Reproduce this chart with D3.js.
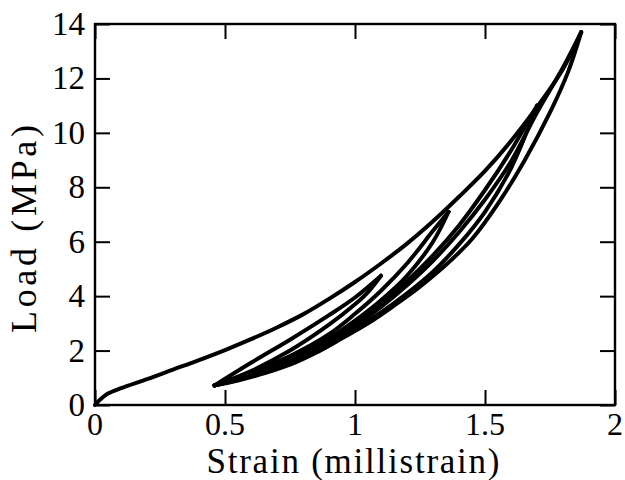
<!DOCTYPE html>
<html><head><meta charset="utf-8">
<script src="https://cdn.jsdelivr.net/npm/d3@7"></script>
<style>body{margin:0;background:#fff}svg{display:block}</style>
</head><body><svg id="c" width="625" height="480"></svg>
<script>
const xTicks = [0, 0.5, 1, 1.5, 2];
const xTickLabels = ["0", "0.5", "1", "1.5", "2"];
const yTicks = [0, 2, 4, 6, 8, 10, 12, 14];
const yTickLabels = ["0", "2", "4", "6", "8", "10", "12", "14"];
const xTitle = "Strain (millistrain)";
const yTitle = "Load (MPa)";

// Strain (millistrain), Load (MPa)
const envelopeX = [0, 0.02, 0.05, 0.1, 0.2, 0.3, 0.4, 0.5, 0.6, 0.7, 0.8, 0.9, 1.0, 1.1, 1.2, 1.3, 1.4, 1.5, 1.6, 1.7, 1.8, 1.87];
const envelopeY = [0, 0.2, 0.42, 0.62, 0.95, 1.3, 1.65, 2.02, 2.42, 2.85, 3.33, 3.9, 4.52, 5.2, 5.93, 6.75, 7.65, 8.6, 9.7, 10.95, 12.35, 13.7];
const reload1X = [0.46, 0.6, 0.75, 0.9, 1.0, 1.1];
const reload1Y = [0.72, 1.55, 2.4, 3.3, 3.95, 4.75];
const unload1X = [1.1, 1.05, 1.0, 0.9, 0.75, 0.6, 0.46];
const unload1Y = [4.75, 4.15, 3.7, 2.95, 2.0, 1.25, 0.72];
const reload2X = [0.46, 0.6, 0.75, 0.9, 1.0, 1.1, 1.2, 1.3, 1.36];
const reload2Y = [0.72, 1.2, 1.8, 2.6, 3.35, 4.2, 5.2, 6.4, 7.1];
const unload2X = [1.36, 1.3, 1.2, 1.1, 1.0, 0.9, 0.75, 0.6, 0.46];
const unload2Y = [7.1, 6.0, 4.75, 3.85, 3.1, 2.45, 1.65, 1.1, 0.72];
const reload3X = [0.46, 0.6, 0.75, 0.9, 1.0, 1.1, 1.2, 1.3, 1.4, 1.5, 1.6, 1.7];
const reload3Y = [0.72, 1.15, 1.7, 2.4, 3.0, 3.7, 4.55, 5.5, 6.6, 7.9, 9.35, 11.0];
const unload3X = [1.7, 1.6, 1.5, 1.4, 1.3, 1.2, 1.1, 1.0, 0.9, 0.75, 0.6, 0.46];
const unload3Y = [11.0, 8.7, 7.1, 5.9, 4.9, 4.1, 3.4, 2.8, 2.25, 1.55, 1.05, 0.72];
const reload4X = [0.46, 0.6, 0.75, 0.9, 1.0, 1.1, 1.2, 1.3, 1.4, 1.5, 1.6, 1.7, 1.8, 1.87];
const reload4Y = [0.72, 1.1, 1.6, 2.3, 2.9, 3.6, 4.4, 5.3, 6.35, 7.55, 8.95, 10.75, 12.4, 13.7];
const unload4X = [1.87, 1.82, 1.75, 1.65, 1.55, 1.45, 1.35, 1.25, 1.15, 1.05, 0.95, 0.85, 0.75, 0.65, 0.55, 0.46];
const unload4Y = [13.7, 12.25, 10.75, 8.95, 7.4, 6.1, 5.15, 4.35, 3.65, 3.0, 2.45, 1.92, 1.48, 1.16, 0.9, 0.72];

const seriesList = [
  [envelopeX, envelopeY], [reload1X, reload1Y], [unload1X, unload1Y],
  [reload2X, reload2Y], [unload2X, unload2Y], [reload3X, reload3Y],
  [unload3X, unload3Y], [reload4X, reload4Y], [unload4X, unload4Y]
];

const FONT = "'Liberation Serif', 'Times New Roman', Times, serif";
const svg = d3.select("#c");
const L = 95, R = 615, T = 24, B = 405;
const x = d3.scaleLinear().domain([0, 2]).range([L, R]);
const y = d3.scaleLinear().domain([0, 14]).range([B, T]);
const tickLen = 15;

const line = d3.line().x(d => x(d[0])).y(d => y(d[1])).curve(d3.curveCatmullRom.alpha(0.5));
const g = svg.append("g");
seriesList.forEach(([xs, ys]) => {
  g.append("path").datum(xs.map((v, i) => [v, ys[i]]))
    .attr("d", line).attr("fill", "none").attr("stroke", "#000")
    .attr("stroke-width", 4).attr("stroke-linejoin", "round").attr("stroke-linecap", "round");
});

// axes (ticks inward, on all four sides)
function style(sel) {
  sel.select(".domain").remove();
  sel.selectAll("line").attr("stroke", "#000").attr("stroke-width", 2);
}
svg.append("g").attr("transform", `translate(0,${B})`)
  .call(d3.axisBottom(x).tickValues(xTicks).tickSize(-tickLen).tickFormat("")).call(style);
svg.append("g").attr("transform", `translate(0,${T})`)
  .call(d3.axisTop(x).tickValues(xTicks).tickSize(-tickLen).tickFormat("")).call(style);
svg.append("g").attr("transform", `translate(${L},0)`)
  .call(d3.axisLeft(y).tickValues(yTicks).tickSize(-tickLen).tickFormat("")).call(style);
svg.append("g").attr("transform", `translate(${R},0)`)
  .call(d3.axisRight(y).tickValues(yTicks).tickSize(-tickLen).tickFormat("")).call(style);
svg.append("rect").attr("x", L).attr("y", T).attr("width", R - L).attr("height", B - T)
  .attr("fill", "none").attr("stroke", "#000").attr("stroke-width", 2.4);

// tick labels
svg.append("g").selectAll("text").data(xTicks).join("text")
  .attr("x", d => x(d)).attr("y", 435).attr("text-anchor", "middle")
  .attr("font-family", FONT).attr("font-size", 32).text((d, i) => xTickLabels[i]);
svg.append("g").selectAll("text").data(yTicks).join("text")
  .attr("x", 85).attr("y", d => y(d) + 11).attr("text-anchor", "end")
  .attr("font-family", FONT).attr("font-size", 33).text((d, i) => yTickLabels[i]);

// titles
svg.append("text").attr("x", 353).attr("y", 473).attr("text-anchor", "middle")
  .attr("font-family", FONT).attr("font-size", 35).attr("textLength", 293).text(xTitle);
svg.append("text").attr("transform", "translate(36,229) rotate(-90)").attr("text-anchor", "middle")
  .attr("font-family", FONT).attr("font-size", 36).attr("textLength", 208).text(yTitle);
</script></body></html>
